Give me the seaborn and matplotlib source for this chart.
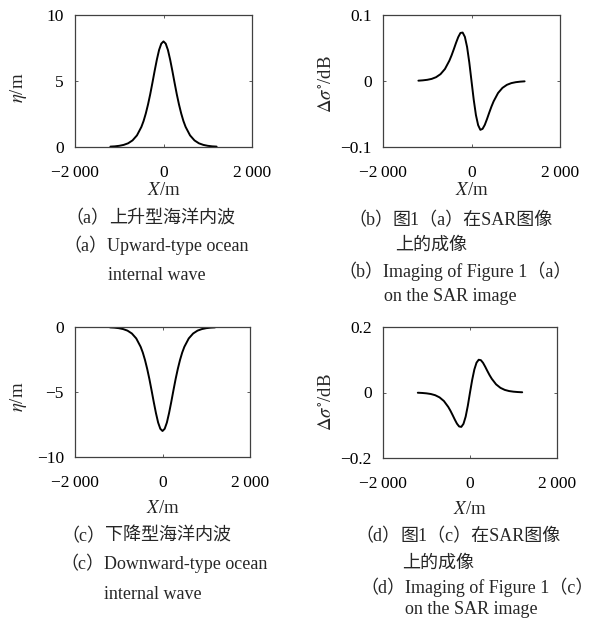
import matplotlib
matplotlib.use("Agg")
import matplotlib.pyplot as plt
import seaborn as sns

# values
x_m = [-1200, -1100, -1000, -900, -800, -700, -600, -500, -450, -400, -350,
       -300, -250, -200, -150, -100, -50, 0, 50, 100, 150, 200, 250, 300,
       350, 400, 450, 500, 600, 700, 800, 900, 1000, 1100, 1200]

eta_up = [0.03, 0.05, 0.09, 0.16, 0.28, 0.50, 0.88, 1.52, 1.97, 2.54, 3.22,
          4.00, 4.87, 5.77, 6.62, 7.35, 7.83, 8.00, 7.83, 7.35, 6.62, 5.77,
          4.87, 4.00, 3.22, 2.54, 1.97, 1.52, 0.88, 0.50, 0.28, 0.16, 0.09,
          0.05, 0.03]

eta_down = [-0.03, -0.05, -0.09, -0.16, -0.28, -0.50, -0.88, -1.52, -1.97,
            -2.54, -3.22, -4.00, -4.87, -5.77, -6.62, -7.35, -7.83, -8.00,
            -7.83, -7.35, -6.62, -5.77, -4.87, -4.00, -3.22, -2.54, -1.97,
            -1.52, -0.88, -0.50, -0.28, -0.16, -0.09, -0.05, -0.03]

sar_up = [0.0005, 0.0010, 0.0018, 0.0032, 0.0058, 0.0104, 0.0182, 0.0308,
          0.0389, 0.0481, 0.0577, 0.0665, 0.0728, 0.0734, 0.0669, 0.0516,
          0.0282, 0.0, -0.0282, -0.0516, -0.0669, -0.0740, -0.0725, -0.0665,
          -0.0577, -0.0481, -0.0389, -0.0308, -0.0182, -0.0104, -0.0058,
          -0.0032, -0.0018, -0.0010, -0.0005]

sar_down = [-0.0007, -0.0014, -0.0026, -0.0046, -0.0083, -0.0149, -0.0260,
            -0.0440, -0.0556, -0.0688, -0.0825, -0.0951, -0.1037, -0.1050,
            -0.0957, -0.0738, -0.0403, 0.0, 0.0384, 0.0703, 0.0911, 0.1000,
            0.0987, 0.0906, 0.0786, 0.0655, 0.0530, 0.0420, 0.0248, 0.0142,
            0.0079, 0.0044, 0.0025, 0.0014, 0.0007]

x_ticks = [-2000, 0, 2000]
x_ticklabels = ["\u22122\u2009000", "0", "2\u2009000"]

sns.set_style("ticks")
plt.rcParams["font.family"] = ["Liberation Serif", "Noto Sans CJK SC", "DejaVu Sans"]
plt.rcParams["mathtext.fontset"] = "stix"
plt.rcParams["axes.edgecolor"] = "#404040"
plt.rcParams["axes.linewidth"] = 0.9

W, H = 600, 618
fig = plt.figure(figsize=(6.0, 6.18), dpi=100)


def box(l, t, r, b):
    return [l / W, 1 - b / H, (r - l) / W, (b - t) / H]


panels = [
    dict(rect=box(75, 15, 252, 147), y=eta_up, ylim=(0, 10), yt=[0, 5, 10],
         ytl=["0", "5", "10"], ylab=r"$\eta$/m", ylc=(-0.26, 0.45), xlc=-0.265),
    dict(rect=box(383, 15, 560, 147), y=sar_up, ylim=(-0.1, 0.1), yt=[-0.1, 0, 0.1],
         ytl=["\u22120.1", "0", "0.1"], ylab=r"$\Delta\sigma^{\circ}$/dB",
         ylc=(-0.271, 0.48), xlc=-0.265),
    dict(rect=box(75, 327, 250, 457), y=eta_down, ylim=(-10, 0), yt=[-10, -5, 0],
         ytl=["\u221210", "\u22125", "0"], ylab=r"$\eta$/m", ylc=(-0.265, 0.46), xlc=-0.33),
    dict(rect=box(383, 327, 557, 458), y=sar_down, ylim=(-0.2, 0.2), yt=[-0.2, 0, 0.2],
         ytl=["\u22120.2", "0", "0.2"], ylab=r"$\Delta\sigma^{\circ}$/dB",
         ylc=(-0.276, 0.43), xlc=-0.33),
]

for p in panels:
    ax = fig.add_axes(p["rect"])
    sns.lineplot(x=x_m, y=p["y"], ax=ax, color="black", linewidth=1.4)
    ax.set_xlim(-2000, 2000)
    ax.set_ylim(*p["ylim"])
    ax.set_xticks(x_ticks, x_ticklabels)
    ax.set_yticks(p["yt"], p["ytl"])
    ax.tick_params(direction="in", top=True, right=True, length=2.5, width=0.6,
                   color="#404040", labelsize=12.5, labelcolor="black")
    ax.tick_params(axis="x", pad=13)
    ax.tick_params(axis="y", pad=8)
    ax.set_ylabel(p["ylab"], fontsize=13.5)
    ax.yaxis.set_label_coords(*p["ylc"])
    ax.set_xlabel(r"$X$/m", fontsize=13.5, va="top")
    ax.xaxis.set_label_coords(0.5, p["xlc"])

# captions: (label, body x, baseline y, body text) in pixels
captions = [
    ("（a）", 109, 223, "上升型海洋内波"),
    ("（a）", 107, 251, "Upward-type ocean"),
    ("", 108, 280, "internal wave"),
    ("（b）", 393, 225, "图1（a）在SAR图像"),
    ("", 395, 250, "上的成像"),
    ("（b）", 383, 277, "Imaging of Figure 1（a）"),
    ("", 384, 301, "on the SAR image"),
    ("（c）", 105, 541, "下降型海洋内波"),
    ("（c）", 104, 569, "Downward-type ocean"),
    ("", 104, 599, "internal wave"),
    ("（d）", 400, 541, "图1（c）在SAR图像"),
    ("", 402, 568, "上的成像"),
    ("（d）", 405, 593, "Imaging of Figure 1（c）"),
    ("", 405, 614, "on the SAR image"),
]
for lab, bx, by, body in captions:
    if lab:
        fig.text(bx / W, 1 - by / H, lab, ha="right", va="baseline", fontsize=13)
    fig.text(bx / W, 1 - by / H, body, ha="left", va="baseline", fontsize=13)

fig.savefig("out.png", dpi=100)
